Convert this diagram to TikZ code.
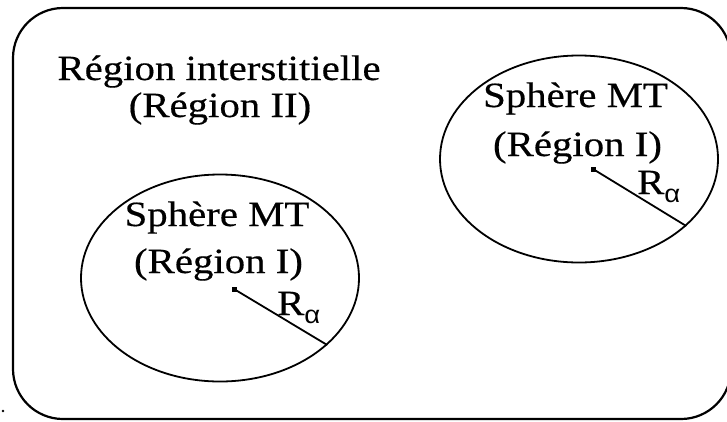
\documentclass[tikz,border=0pt]{standalone}
\usepackage{fontspec}
\setmainfont{Liberation Serif}[FakeStretch=1.15,FakeBold=0.4]
\newfontfamily\alphafont{Liberation Sans}[FakeStretch=1.1]
\usetikzlibrary{shapes.geometric}
\begin{document}
\begin{tikzpicture}[x=1pt,y=-1pt,
  lbl/.style={font=\fontsize{35.5}{40}\selectfont, inner sep=0, anchor=base},
  sphere/.style={ellipse, draw, line width=1.8pt, minimum width=278pt, minimum height=207pt, inner sep=0},
  rline/.style={line width=1.8pt},
  dotc/.style={fill, rectangle, minimum size=5pt, inner sep=0},
  ralpha/.style={lbl, anchor=base west}]
\useasboundingbox (0,0) rectangle (727,421);
\clip (0,0) rectangle (727,421);
\fill[white] (0,0) rectangle (727,421);
\draw[line width=2.2pt, rounded corners=50pt] (13,8) rectangle (731,419);
\node[fill, circle, inner sep=0, minimum size=2.6pt] (sd) at (3,411) {};
\node[sphere] (s1) at (220,278) {};
\node[sphere] (s2) at (579,159) {};
\node[dotc] (c1) at (234,289) {};
\node[dotc] (c2) at (593,169) {};
\draw[rline] (c1.center) -- (s1.-32.5);
\draw[rline] (c2.center) -- (s2.-32.5);
\node[lbl] (t1) at (219,80) {Région interstitielle};
\node[lbl] (t2) at (220,117) {(Région II)};
\node[lbl] (a1) at (217,226) {Sphère MT};
\node[lbl] (a2) at (218.5,273) {(Région I)};
\node[lbl] (b1) at (575.5,107) {Sphère MT};
\node[lbl] (b2) at (577.5,156) {(Région I)};
\node[ralpha] (r1) at (277,315) {R\raisebox{-8pt}{\alphafont\fontsize{25}{25}\selectfont α}};
\node[ralpha] (r2) at (637,194) {R\raisebox{-8pt}{\alphafont\fontsize{25}{25}\selectfont α}};
\end{tikzpicture}
\end{document}
